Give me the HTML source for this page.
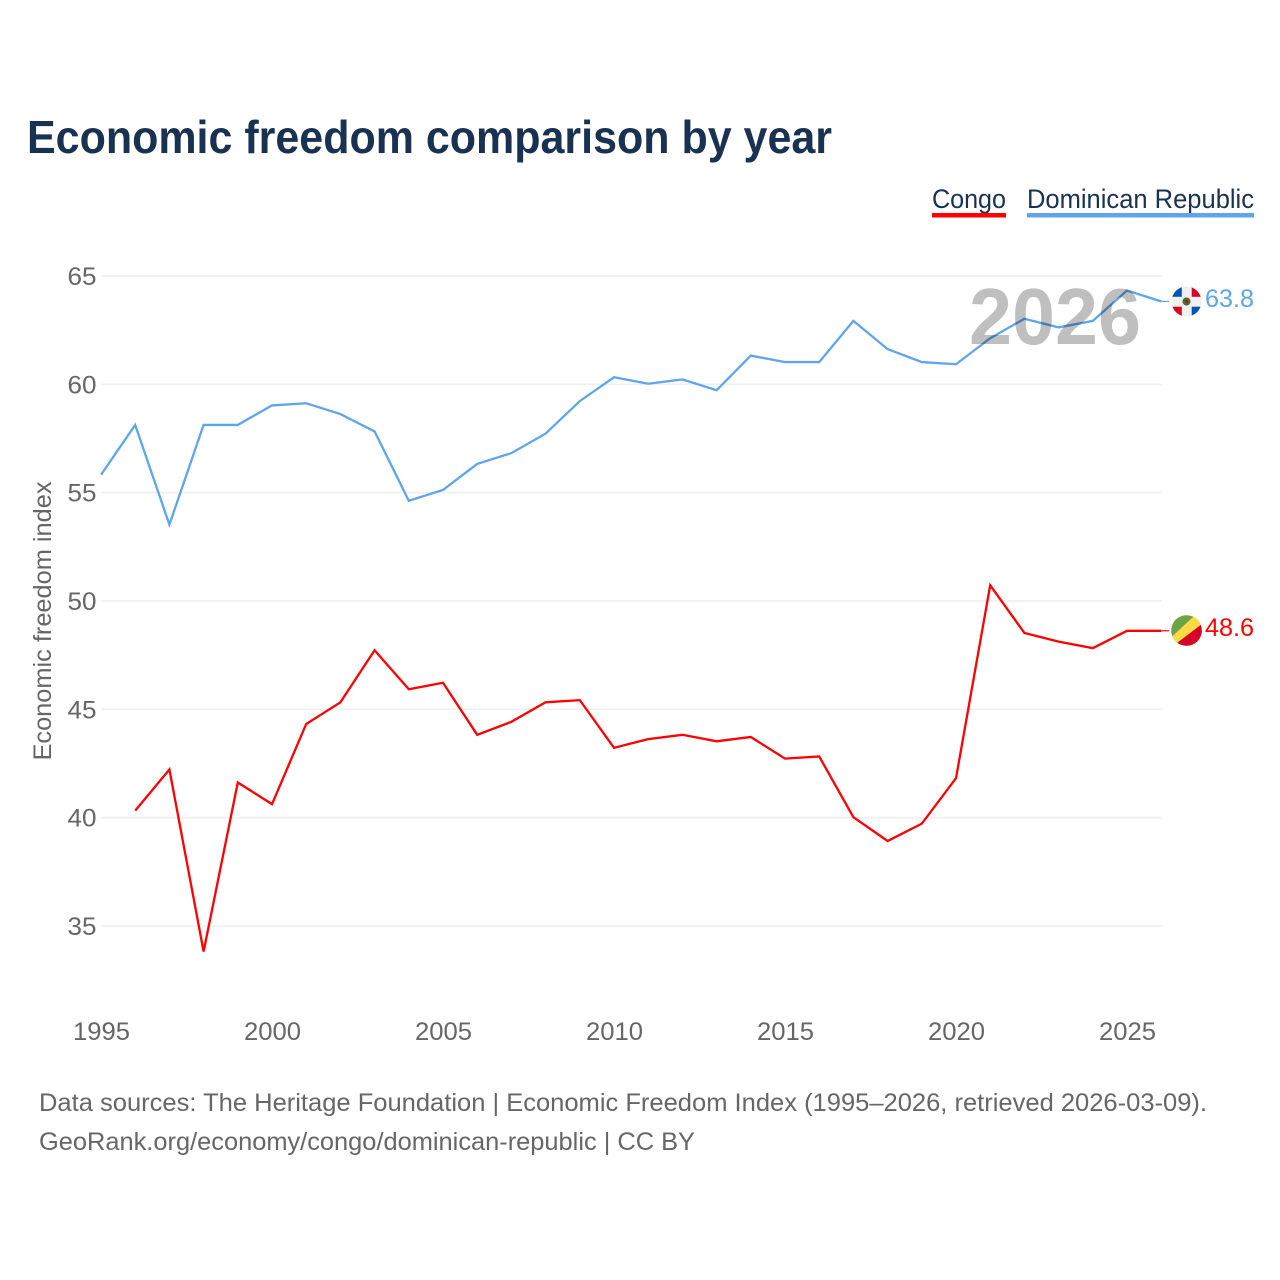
<!DOCTYPE html>
<html lang="en">
<head>
<meta charset="utf-8">
<title>Economic freedom comparison by year</title>
<style>
html,body{margin:0;padding:0;background:#fff;}
svg{display:block;}
text{font-family:"Liberation Sans",sans-serif;}
.tick{font-size:25px;fill:#666;}
.foot{font-size:25px;fill:#666;}
</style>
</head>
<body>
<svg id="chart" width="1280" height="1280" viewBox="0 0 1280 1280" xmlns="http://www.w3.org/2000/svg">
  <rect width="1280" height="1280" fill="#fff"/>
  <text x="27" y="153" font-size="46" font-weight="700" fill="#1a3252" textLength="805" lengthAdjust="spacingAndGlyphs">Economic freedom comparison by year</text>

  <text x="932" y="208" font-size="27" fill="#1a3252" textLength="74" lengthAdjust="spacingAndGlyphs">Congo</text>
  <rect x="932" y="213" width="74" height="4.500" fill="#ff0000"/>
  <text x="1027" y="208" font-size="27" fill="#1a3252" textLength="227" lengthAdjust="spacingAndGlyphs">Dominican Republic</text>
  <rect x="1027" y="213" width="227" height="4.500" fill="#5fa5ec"/>

  <g id="grid"></g>
  <g id="yticks"></g>
  <g id="xticks"></g>

  <text transform="translate(51,621) rotate(-90)" text-anchor="middle" font-size="25" fill="#666" textLength="279" lengthAdjust="spacingAndGlyphs">Economic freedom index</text>

  <g id="series" transform="translate(-0.5,-0.5)"></g>

  <text x="969" y="344" font-size="80" font-weight="700" fill="#000" fill-opacity="0.25" textLength="172" lengthAdjust="spacingAndGlyphs">2026</text>

  <g>
    <clipPath id="dr-clip"><circle cx="1186.500" cy="301.500" r="15"/></clipPath>
    <g clip-path="url(#dr-clip)">
      <rect x="1171" y="286" width="31" height="31" fill="#f0f0f0"/>
      <rect x="1171" y="286" width="10.800" height="10.800" fill="#0052b4"/>
      <rect x="1191.700" y="286" width="10.800" height="10.800" fill="#d80027"/>
      <rect x="1171" y="306.700" width="10.800" height="10.800" fill="#d80027"/>
      <rect x="1191.700" y="306.700" width="10.800" height="10.800" fill="#0052b4"/>
      <circle cx="1186.500" cy="301.500" r="4" fill="#496e2d"/>
      <rect x="1185" y="300" width="3" height="3" fill="#d80027"/>
    </g>
  </g>
  <g>
    <clipPath id="cg-clip"><circle cx="1186.500" cy="630.500" r="15.300"/></clipPath>
    <g clip-path="url(#cg-clip)">
      <rect x="1170" y="614" width="33" height="33" fill="#6da544"/>
      <polygon points="1168,640.400 1198,612.300 1206,621 1170,648.400" fill="#ffda44"/>
      <polygon points="1170,648.400 1206,621 1206,650 1170,650" fill="#d80027"/>
    </g>
  </g>

  <text id="label-dr" x="1254" y="307" text-anchor="end" font-size="25" fill="#5fa5ec" textLength="49" lengthAdjust="spacingAndGlyphs">63.8</text>
  <text id="label-cg" x="1254" y="636" text-anchor="end" font-size="25" fill="#ff0000" textLength="49" lengthAdjust="spacingAndGlyphs">48.6</text>

  <text class="foot" x="39" y="1111" textLength="1168" lengthAdjust="spacingAndGlyphs">Data sources: The Heritage Foundation | Economic Freedom Index (1995–2026, retrieved 2026-03-09).</text>
  <a><text class="foot" x="39" y="1150" textLength="656" lengthAdjust="spacingAndGlyphs">GeoRank.org/economy/congo/dominican-republic | CC BY</text></a>
</svg>
<script>
var years = [1995,1996,1997,1998,1999,2000,2001,2002,2003,2004,2005,2006,2007,2008,2009,2010,2011,2012,2013,2014,2015,2016,2017,2018,2019,2020,2021,2022,2023,2024,2025,2026];
var dominicanValues = [55.8,58.1,53.5,58.1,58.1,59.0,59.1,58.6,57.8,54.6,55.1,56.3,56.8,57.7,59.2,60.3,60.0,60.2,59.7,61.3,61.0,61.0,62.9,61.6,61.0,60.9,62.1,63.0,62.6,62.9,64.3,63.8];
var congoValues = [null,40.3,42.2,33.8,41.6,40.6,44.3,45.3,47.7,45.9,46.2,43.8,44.4,45.3,45.4,43.2,43.6,43.8,43.5,43.7,42.7,42.8,40.0,38.9,39.7,41.8,50.7,48.5,48.1,47.8,48.6,48.6];
var yTickLabels = [35,40,45,50,55,60,65];
var xTickLabels = [1995,2000,2005,2010,2015,2020,2025];

var NS = 'http://www.w3.org/2000/svg';
function xScale(year) { return 101.5 + (year - 1995) * 34.2; }
function yScale(value) { return 926 - (value - 35) * 21.67; }
function make(tag, attrs, parent, text) {
  var el = document.createElementNS(NS, tag);
  for (var k in attrs) el.setAttribute(k, attrs[k]);
  if (text !== undefined) el.textContent = text;
  parent.appendChild(el);
  return el;
}
var gridG = document.getElementById('grid');
var yG = document.getElementById('yticks');
var xG = document.getElementById('xticks');
var seriesG = document.getElementById('series');

yTickLabels.forEach(function (t) {
  var line = make('line', {x1: 101.5, x2: 1161.7, y1: yScale(t), y2: yScale(t), stroke: '#efefef', 'stroke-width': 1.6}, gridG);
  
  
  var lab = make('text', {x: 96.5, y: yScale(t) + 9, 'text-anchor': 'end', 'class': 'tick', textLength: 29, lengthAdjust: 'spacingAndGlyphs'}, yG, String(t));
  
  
});
xTickLabels.forEach(function (t) {
  var lab = make('text', {x: xScale(t), y: 1040, 'text-anchor': 'middle', 'class': 'tick', textLength: 57, lengthAdjust: 'spacingAndGlyphs'}, xG, String(t));
  
  
});

function drawSeries(values, color, name) {
  var pts = [];
  values.forEach(function (v, i) {
    if (v !== null) pts.push(xScale(years[i]).toFixed(2) + ',' + yScale(v).toFixed(2));
  });
  var line = make('polyline', {points: pts.join(' '), fill: 'none', stroke: color, 'stroke-width': 2.3, 'stroke-linejoin': 'miter'}, seriesG);
  
  
  var last = values[values.length - 1];
  var lead = make('line', {x1: xScale(2026), x2: xScale(2026) + 8, y1: yScale(last), y2: yScale(last), stroke: color, 'stroke-width': 1.2}, seriesG);
  
  
}
drawSeries(dominicanValues, '#5fa5ec', 'dominican-republic');
drawSeries(congoValues, '#ff0000', 'congo');
</script>
</body>
</html>
